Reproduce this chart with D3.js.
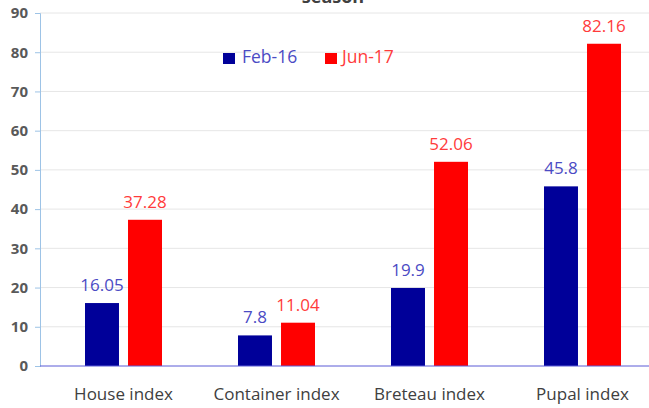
<!DOCTYPE html>
<html><head><meta charset="utf-8">
<script src="https://cdn.jsdelivr.net/npm/d3@7"></script>
<style>body{margin:0;background:#fff}svg{display:block}</style>
</head><body><svg id="c" width="649" height="408"></svg>
<script>
const categories = ["House index","Container index","Breteau index","Pupal index"];
const seriesNames = ["Feb-16","Jun-17"];
const feb16 = [16.05, 7.8, 19.9, 45.8];
const jun17 = [37.28, 11.04, 52.06, 82.16];
const yTicks = [0,10,20,30,40,50,60,70,80,90];
const colors = ["#000099","#ff0000"];
const labelColors = ["#4b4bc4","#ff3b3b"];

const svg = d3.select("#c");
const font = "'Open Sans', sans-serif";
const y = d3.scaleLinear().domain([0,90]).range([366,13]);
const x0 = d3.scaleBand().domain(categories).range([47,659]).paddingInner(0).paddingOuter(0);
const x1 = d3.scaleBand().domain(seriesNames).range([x0.bandwidth()/2-38.5, x0.bandwidth()/2+38.5]).paddingInner(0.21);

// title (cut off at top edge as in the reference)
svg.append("text").attr("x",333).attr("y",3).attr("text-anchor","middle")
  .attr("font-family",font).attr("font-size",18).attr("font-weight","bold").attr("fill","#404040").text("season");

// grid
svg.append("g").selectAll("line").data(yTicks.filter(d=>d>0)).join("line")
  .attr("x1",40).attr("x2",649).attr("y1",d=>y(d)).attr("y2",d=>y(d))
  .attr("stroke","#e6e6e6").attr("stroke-width",1);

// y axis
const ya = svg.append("g").attr("transform","translate(40,0)")
  .call(d3.axisLeft(y).tickValues(yTicks).tickSize(5).tickFormat(d3.format("d")));
ya.select(".domain").attr("stroke","#9dc3e6");
ya.selectAll(".tick line").attr("stroke","#9dc3e6");
ya.selectAll("text").attr("font-family",font).attr("font-size",15).attr("font-weight","bold")
  .attr("fill","#595959").attr("x",-12);

// bars
const data = categories.map((c,i)=>({c, vals:[feb16[i], jun17[i]]}));
const g = svg.append("g").selectAll("g").data(data).join("g")
  .attr("transform",d=>`translate(${x0(d.c)},0)`);
g.selectAll("rect").data(d=>d.vals.map((v,j)=>({v,j}))).join("rect")
  .attr("x",d=>x1(seriesNames[d.j])).attr("width",x1.bandwidth())
  .attr("y",d=>y(d.v)).attr("height",d=>y(0)-y(d.v)).attr("fill",d=>colors[d.j]);
g.selectAll("text").data(d=>d.vals.map((v,j)=>({v,j}))).join("text")
  .attr("x",d=>x1(seriesNames[d.j])+x1.bandwidth()/2).attr("y",d=>y(d.v)-12)
  .attr("text-anchor","middle").attr("font-family",font).attr("font-size",17)
  .attr("fill",d=>labelColors[d.j]).text(d=>d.v);

// x axis baseline
const xa = svg.append("g").attr("transform",`translate(0,${y(0)})`)
  .call(d3.axisBottom(x0).tickSize(0).tickPadding(22));
xa.select(".domain").attr("stroke","#5b5bd6").attr("d","M40,0H649");
xa.selectAll("text").attr("font-family",font).attr("font-size",17).attr("fill","#404040");

// legend
const lg = svg.append("g");
const lx = [223, 325];
const tx = [242, 342];
seriesNames.forEach((s,i)=>{
  lg.append("rect").attr("x",lx[i]).attr("y",53).attr("width",12).attr("height",11).attr("fill",colors[i]);
  lg.append("text").attr("x",tx[i]).attr("y",63).attr("font-family",font).attr("font-size",17.5)
    .attr("fill",labelColors[i]).text(s);
});
</script></body></html>
